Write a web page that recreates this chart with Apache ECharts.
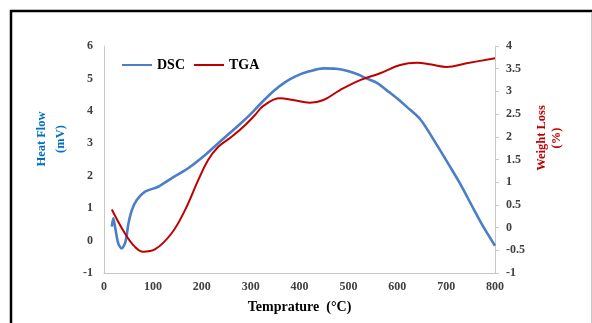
<!DOCTYPE html>
<html>
<head>
<meta charset="utf-8">
<script src="https://cdn.jsdelivr.net/npm/echarts@6/dist/echarts.min.js"></script>
<style>
  html, body { margin: 0; padding: 0; background: #fff; }
  #chart { width: 592px; height: 323px; }
</style>
</head>
<body>
<div id="chart"></div>
<script>
// DSC (left axis, mV) and TGA (right axis, %)
const dscTemp = [16, 19, 22, 29, 36, 44, 50, 57, 67, 84, 111, 138, 172, 207, 241, 275, 300, 320, 346, 370, 394, 420, 449, 475, 497, 520, 537, 560, 578, 600, 619, 647, 674, 708, 728, 756, 776, 800];
const dscVal = [0.43, 0.69, 0.48, -0.08, -0.24, -0.03, 0.53, 0.94, 1.25, 1.51, 1.66, 1.92, 2.23, 2.64, 3.10, 3.55, 3.9, 4.22, 4.6, 4.88, 5.08, 5.22, 5.31, 5.3, 5.24, 5.12, 5.0, 4.85, 4.64, 4.38, 4.13, 3.74, 3.12, 2.28, 1.77, 0.98, 0.43, -0.16];
const tgaTemp = [16, 43, 63, 80, 104, 138, 166, 193, 213, 234, 261, 288, 309, 326, 360, 387, 421, 449, 483, 524, 565, 606, 640, 670, 701, 742, 800];
const tgaVal = [0.40, -0.13, -0.42, -0.53, -0.48, -0.13, 0.39, 1.05, 1.49, 1.78, 2.0, 2.25, 2.48, 2.68, 2.85, 2.81, 2.75, 2.81, 3.03, 3.25, 3.40, 3.58, 3.63, 3.59, 3.54, 3.62, 3.73];

const serif = '"Liberation Serif", "DejaVu Serif", serif';
const tickLabel = { fontFamily: serif, fontWeight: 'bold', fontSize: 12, color: '#404040' };

const chart = echarts.init(document.getElementById('chart'), null, { renderer: 'canvas' });
chart.setOption({
  animation: false,
  backgroundColor: '#fff',
  grid: { left: 104, right: 97, top: 46, bottom: 50 },
  legend: {
    left: 117,
    top: 53,
    icon: 'rect',
    itemWidth: 30,
    itemHeight: 2,
    itemGap: 9,
    textStyle: { fontFamily: serif, fontWeight: 'bold', fontSize: 14, color: '#000', lineHeight: 14 },
    data: ['DSC', 'TGA']
  },
  xAxis: {
    type: 'value',
    min: 0,
    max: 800,
    interval: 100,
    name: 'Temprature  (°C)',
    nameLocation: 'middle',
    nameGap: 27,
    nameTextStyle: { fontFamily: serif, fontWeight: 'bold', fontSize: 14, color: '#000' },
    axisLine: { onZero: false, lineStyle: { color: '#c8c8c8', width: 1 } },
    axisTick: { show: false },
    axisLabel: Object.assign({ margin: 8 }, tickLabel),
    splitLine: { show: false }
  },
  yAxis: [
    {
      type: 'value',
      min: -1,
      max: 6,
      interval: 1,
      axisLine: { show: true, onZero: false, lineStyle: { color: '#c8c8c8', width: 1 } },
      axisTick: { show: false },
      axisLabel: Object.assign({ margin: 11 }, tickLabel),
      splitLine: { show: false }
    },
    {
      type: 'value',
      min: -1,
      max: 4,
      interval: 0.5,
      position: 'right',
      axisLine: { show: true, onZero: false, lineStyle: { color: '#c8c8c8', width: 1 } },
      axisTick: { show: true, length: 4, lineStyle: { color: '#c8c8c8' } },
      axisLabel: Object.assign({ margin: 11 }, tickLabel),
      splitLine: { show: false }
    }
  ],
  series: [
    {
      name: 'DSC',
      type: 'line',
      yAxisIndex: 0,
      showSymbol: false,
      smooth: 0.3,
      lineStyle: { color: '#4a7ec6', width: 2.6 },
      itemStyle: { color: '#4a7ec6' },
      data: dscTemp.map((t, i) => [t, dscVal[i]])
    },
    {
      name: 'TGA',
      type: 'line',
      yAxisIndex: 1,
      showSymbol: false,
      smooth: 0.4,
      lineStyle: { color: '#c00000', width: 2 },
      itemStyle: { color: '#c00000' },
      data: tgaTemp.map((t, i) => [t, tgaVal[i]])
    }
  ],
  graphic: [
    {
      type: 'rect',
      shape: { x: 11, y: 11, width: 700, height: 400 },
      style: { fill: 'none', stroke: '#000', lineWidth: 2.5 },
      silent: true
    },
    {
      type: 'line',
      shape: { x1: 591.5, y1: 12, x2: 591.5, y2: 323 },
      style: { stroke: '#c8c8c8', lineWidth: 1 },
      silent: true
    },
    {
      type: 'text',
      x: 42, y: 139, rotation: Math.PI / 2,
      style: { text: 'Heat Flow', fill: '#0070c0', font: 'bold 12.5px ' + serif, align: 'center', verticalAlign: 'middle' }
    },
    {
      type: 'text',
      x: 61, y: 139, rotation: Math.PI / 2,
      style: { text: '(mV)', fill: '#0070c0', font: 'bold 12.5px ' + serif, align: 'center', verticalAlign: 'middle' }
    },
    {
      type: 'text',
      x: 542, y: 138, rotation: Math.PI / 2,
      style: { text: 'Weight Loss', fill: '#c00000', font: 'bold 12.5px ' + serif, align: 'center', verticalAlign: 'middle' }
    },
    {
      type: 'text',
      x: 557, y: 138, rotation: Math.PI / 2,
      style: { text: '(%)', fill: '#c00000', font: 'bold 12.5px ' + serif, align: 'center', verticalAlign: 'middle' }
    }
  ]
});
</script>
</body>
</html>
